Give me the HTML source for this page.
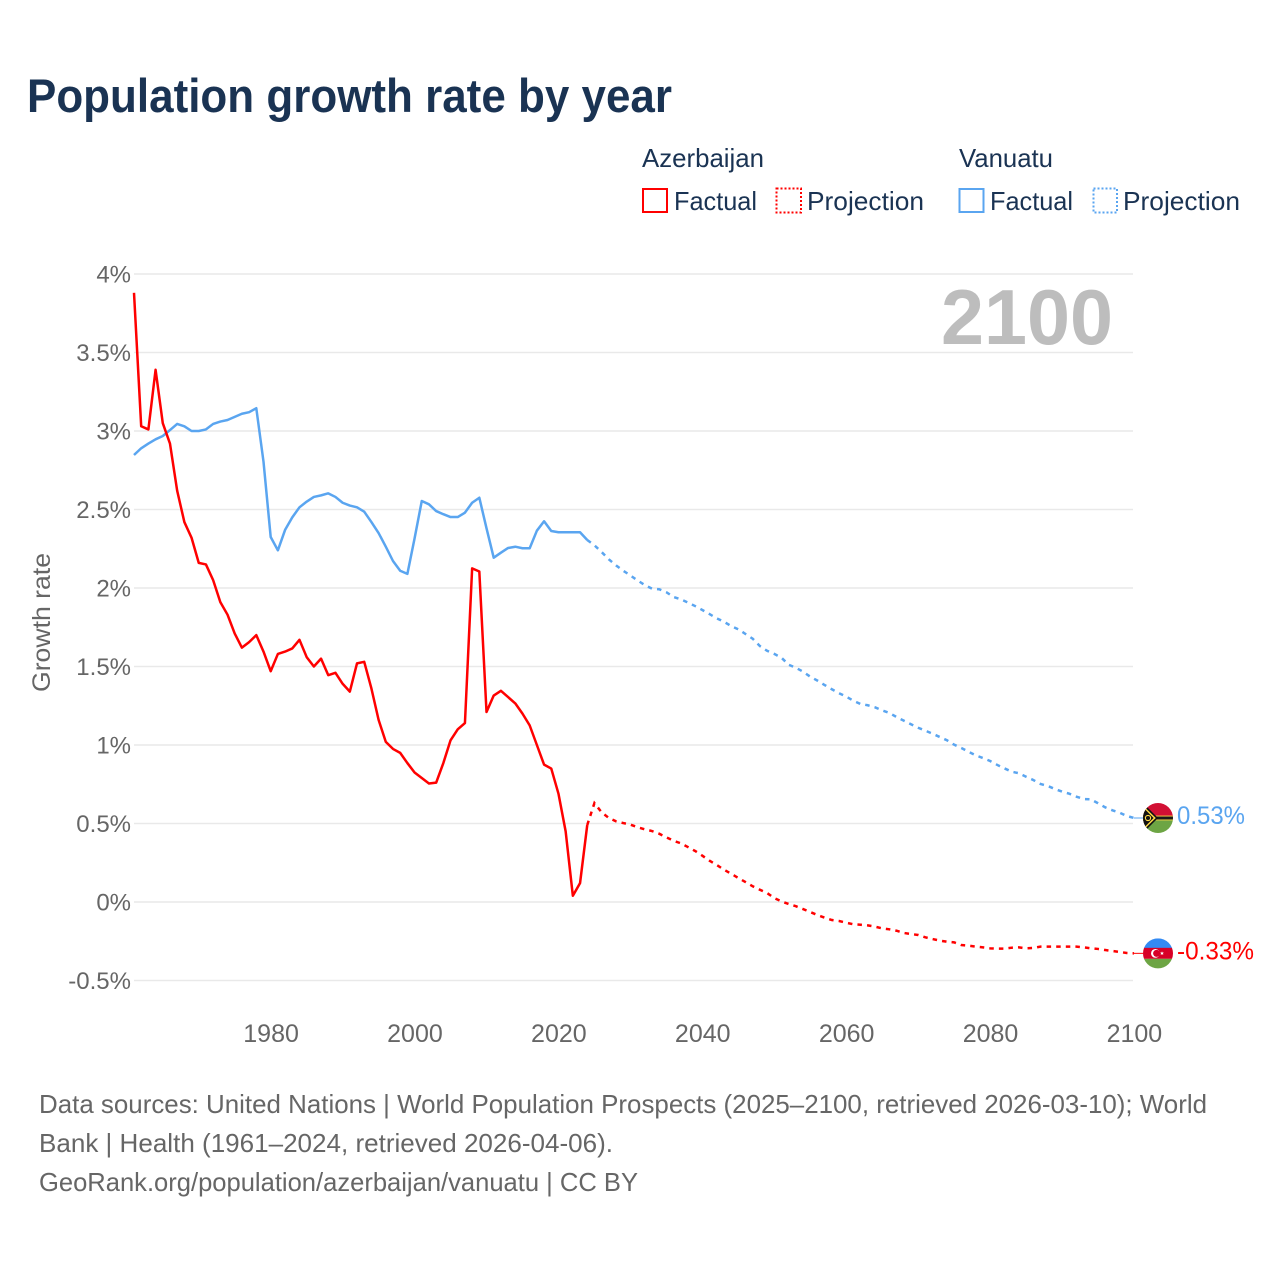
<!DOCTYPE html>
<html lang="en">
<head>
<meta charset="utf-8">
<title>Population growth rate by year</title>
<style>
html,body{margin:0;padding:0;background:#fff;}
svg{display:block;font-family:"Liberation Sans",sans-serif;}
</style>
</head>
<body>
<svg id="chart" xmlns="http://www.w3.org/2000/svg" width="1280" height="1280" viewBox="0 0 1280 1280">
  <defs>
    <clipPath id="flag-clip"><circle cx="0" cy="0" r="15"/></clipPath>
  </defs>
  <rect x="0" y="0" width="1280" height="1280" fill="#ffffff"/>

  <text x="27" y="112" font-size="47" font-weight="700" fill="#1a3353" textLength="645" lengthAdjust="spacingAndGlyphs">Population growth rate by year</text>

  <g font-size="26" fill="#1a3353">
    <text x="642" y="167" textLength="122" lengthAdjust="spacingAndGlyphs">Azerbaijan</text>
    <rect x="643" y="189" width="24" height="23" fill="none" stroke="#ff0000" stroke-width="2"/>
    <text x="674" y="210" textLength="83" lengthAdjust="spacingAndGlyphs">Factual</text>
    <rect x="776.5" y="188.5" width="24.5" height="24" fill="none" stroke="#ff0000" stroke-width="2" stroke-dasharray="2 2"/>
    <text x="807" y="210" textLength="117" lengthAdjust="spacingAndGlyphs">Projection</text>
    <text x="959" y="167" textLength="94" lengthAdjust="spacingAndGlyphs">Vanuatu</text>
    <rect x="959.5" y="189" width="24" height="23" fill="none" stroke="#5aa5f0" stroke-width="2"/>
    <text x="990" y="210" textLength="83" lengthAdjust="spacingAndGlyphs">Factual</text>
    <rect x="1093.5" y="188.5" width="23.5" height="24" fill="none" stroke="#5aa5f0" stroke-width="2" stroke-dasharray="2 2"/>
    <text x="1123" y="210" textLength="117" lengthAdjust="spacingAndGlyphs">Projection</text>
  </g>

  <text transform="translate(50,692) rotate(-90)" x="0" y="0" font-size="25" fill="#666666" textLength="139" lengthAdjust="spacingAndGlyphs">Growth rate</text>

  <g id="grid"></g>
  <g id="y-labels"></g>
  <g id="x-labels"></g>

  <text x="1113" y="344" text-anchor="end" font-size="78" font-weight="700" fill="#bdbdbd" textLength="172" lengthAdjust="spacingAndGlyphs">2100</text>

  <g id="series"></g>

  <g id="flag-vanuatu">
    <g clip-path="url(#flag-clip)">
      <rect x="-15" y="-15" width="30" height="15" fill="#d21034"/>
      <rect x="-15" y="0" width="30" height="15" fill="#6da544"/>
      <rect x="-15" y="-2.4" width="30" height="4.8" fill="#ffda44"/>
      <rect x="-15" y="-1.5" width="30" height="3" fill="#1a1a1a"/>
      <polygon points="-15,-15 0,0 -15,15" fill="#111111"/>
      <polygon points="-15,-12.5 -2.2,0 -15,12.5" fill="#ffda44"/>
      <polygon points="-15,-10.6 -4.4,0 -15,10.6" fill="#111111"/>
      <circle cx="-10" cy="0" r="2.6" fill="none" stroke="#ffda44" stroke-width="1.1"/>
    </g>
  </g>
  <g id="flag-azerbaijan">
    <g clip-path="url(#flag-clip)">
      <rect x="-15" y="-15" width="30" height="10" fill="#338af3"/>
      <rect x="-15" y="-5.5" width="30" height="11" fill="#d80027"/>
      <rect x="-15" y="5.5" width="30" height="10" fill="#6da544"/>
      <circle cx="-2.6" cy="0" r="4.4" fill="#ffffff"/>
      <circle cx="-1.4" cy="0" r="3.5" fill="#d80027"/>
      <polygon points="4,-2 4.6,-0.7 6,-0.7 4.9,0.2 5.3,1.6 4,0.8 2.7,1.6 3.1,0.2 2,-0.7 3.4,-0.7" fill="#ffffff"/>
    </g>
  </g>

  <g id="end-labels"></g>

  <g font-size="26" fill="#666666">
    <text x="39" y="1113" textLength="1168" lengthAdjust="spacingAndGlyphs">Data sources: United Nations | World Population Prospects (2025–2100, retrieved 2026-03-10); World</text>
    <text x="39" y="1152" textLength="574" lengthAdjust="spacingAndGlyphs">Bank | Health (1961–2024, retrieved 2026-04-06).</text>
    <text x="39" y="1191" textLength="599" lengthAdjust="spacingAndGlyphs">GeoRank.org/population/azerbaijan/vanuatu | CC BY</text>
  </g>
</svg>
<script>
const factualStartYear = 1961;
const projectionStartYear = 2024;
const yTicks = [-0.5, 0, 0.5, 1, 1.5, 2, 2.5, 3, 3.5, 4];
const xTicks = [1980, 2000, 2020, 2040, 2060, 2080, 2100];
const azerbaijanFactual = [3.88,3.03,3.01,3.39,3.05,2.92,2.62,2.42,2.32,2.16,2.15,2.05,1.91,1.83,1.71,1.62,1.655,1.70,1.595,1.47,1.58,1.595,1.615,1.67,1.56,1.50,1.55,1.445,1.46,1.39,1.34,1.52,1.53,1.36,1.16,1.02,0.975,0.95,0.885,0.825,0.79,0.755,0.76,0.885,1.03,1.10,1.14,2.125,2.105,1.21,1.315,1.345,1.305,1.265,1.20,1.125,1.00,0.875,0.85,0.69,0.45,0.04,0.12,0.49];
const azerbaijanProjection = [0.49,0.63,0.571,0.535,0.514,0.503,0.493,0.476,0.463,0.452,0.435,0.412,0.39,0.374,0.35,0.325,0.295,0.263,0.236,0.206,0.18,0.153,0.127,0.1,0.078,0.057,0.025,0.004,-0.013,-0.027,-0.045,-0.064,-0.083,-0.1,-0.115,-0.121,-0.132,-0.142,-0.145,-0.149,-0.157,-0.168,-0.174,-0.183,-0.197,-0.204,-0.21,-0.225,-0.236,-0.246,-0.253,-0.257,-0.274,-0.278,-0.284,-0.289,-0.295,-0.297,-0.297,-0.291,-0.289,-0.295,-0.293,-0.284,-0.284,-0.284,-0.284,-0.284,-0.284,-0.289,-0.295,-0.299,-0.306,-0.312,-0.318,-0.325,-0.327];
const vanuatuFactual = [2.847,2.89,2.92,2.947,2.968,3.006,3.045,3.03,3.0,3.0,3.01,3.045,3.06,3.07,3.09,3.11,3.12,3.145,2.805,2.325,2.24,2.37,2.45,2.514,2.55,2.58,2.59,2.603,2.58,2.543,2.525,2.514,2.486,2.42,2.35,2.263,2.172,2.11,2.09,2.316,2.554,2.533,2.49,2.47,2.452,2.452,2.48,2.543,2.575,2.38,2.193,2.225,2.255,2.263,2.253,2.253,2.365,2.425,2.363,2.355,2.355,2.355,2.355,2.306];
const vanuatuProjection = [2.306,2.272,2.229,2.183,2.144,2.11,2.08,2.048,2.019,1.996,1.992,1.973,1.943,1.928,1.907,1.885,1.86,1.834,1.807,1.785,1.758,1.737,1.707,1.677,1.63,1.6,1.58,1.556,1.511,1.492,1.467,1.435,1.41,1.382,1.355,1.33,1.308,1.282,1.261,1.253,1.24,1.22,1.204,1.178,1.155,1.132,1.11,1.091,1.072,1.051,1.03,1.002,0.981,0.957,0.934,0.917,0.898,0.873,0.851,0.83,0.82,0.798,0.777,0.752,0.739,0.72,0.703,0.69,0.671,0.656,0.654,0.629,0.603,0.584,0.569,0.548,0.535];
const endLabels = ["0.53%", "-0.33%"];

const NS = "http://www.w3.org/2000/svg";
function xScale(year) { return 134 + (year - 1961) * (1000 / 139); }
function yScale(value) { return 902 - value * 157; }
function formatPct(value) { return String(value) + "%"; }

function make(tag, parentId, attrs, text) {
  const el = document.createElementNS(NS, tag);
  Object.keys(attrs).forEach(function (k) { el.setAttribute(k, attrs[k]); });
  if (text !== undefined) { el.textContent = text; }
  document.getElementById(parentId).appendChild(el);
  return el;
}
function pathFrom(values, startYear) {
  return values.map(function (v, i) {
    return (i ? "L" : "M") + xScale(startYear + i).toFixed(2) + " " + yScale(v).toFixed(2);
  }).join(" ");
}

yTicks.forEach(function (t) {
  const line = make("line", "grid", { x1: 134, x2: 1133, y1: yScale(t), y2: yScale(t), stroke: "#e9e9e9", "stroke-width": 1.5 });
  
  
  const label = make("text", "y-labels", { x: 131, y: yScale(t) + 8.5, "text-anchor": "end", "font-size": 24, fill: "#666666" }, formatPct(t));
  
  
});

xTicks.forEach(function (t) {
  const label = make("text", "x-labels", { x: xScale(t) + 0.4, y: 1042, "text-anchor": "middle", "font-size": 25, fill: "#666666" }, String(t));
  
  
});

const vanuatuFactualLine = make("path", "series", { d: pathFrom(vanuatuFactual, factualStartYear), fill: "none", stroke: "#5aa5f0", "stroke-width": 2.5, "stroke-linejoin": "round" });



const vanuatuProjectionLine = make("path", "series", { d: pathFrom(vanuatuProjection, projectionStartYear), fill: "none", stroke: "#5aa5f0", "stroke-width": 2.5, "stroke-dasharray": "4.5 5.1" });



const azerbaijanFactualLine = make("path", "series", { d: pathFrom(azerbaijanFactual, factualStartYear), fill: "none", stroke: "#ff0000", "stroke-width": 2.5, "stroke-linejoin": "round" });



const azerbaijanProjectionLine = make("path", "series", { d: pathFrom(azerbaijanProjection, projectionStartYear), fill: "none", stroke: "#ff0000", "stroke-width": 2.5, "stroke-dasharray": "4.5 5.1" });



const vanuatuLast = vanuatuProjection[vanuatuProjection.length - 1];
const azerbaijanLast = azerbaijanProjection[azerbaijanProjection.length - 1];

const vanuatuLeader = make("line", "series", { x1: xScale(2100), x2: 1143, y1: yScale(vanuatuLast), y2: yScale(vanuatuLast), stroke: "#5aa5f0", "stroke-width": 1 });



const azerbaijanLeader = make("line", "series", { x1: xScale(2100), x2: 1143, y1: yScale(azerbaijanLast), y2: yScale(azerbaijanLast), stroke: "#ff0000", "stroke-width": 1 });



document.getElementById("flag-vanuatu").setAttribute("transform", "translate(1158," + yScale(vanuatuLast) + ")");
document.getElementById("flag-azerbaijan").setAttribute("transform", "translate(1158," + yScale(azerbaijanLast) + ")");

const vanuatuEnd = make("text", "end-labels", { x: 1177, y: yScale(vanuatuLast) + 6, "font-size": 25, fill: "#5aa5f0", textLength: 68, lengthAdjust: "spacingAndGlyphs" }, endLabels[0]);



const azerbaijanEnd = make("text", "end-labels", { x: 1177, y: yScale(azerbaijanLast) + 6, "font-size": 25, fill: "#ff0000", textLength: 77, lengthAdjust: "spacingAndGlyphs" }, endLabels[1]);


</script>
</body>
</html>
